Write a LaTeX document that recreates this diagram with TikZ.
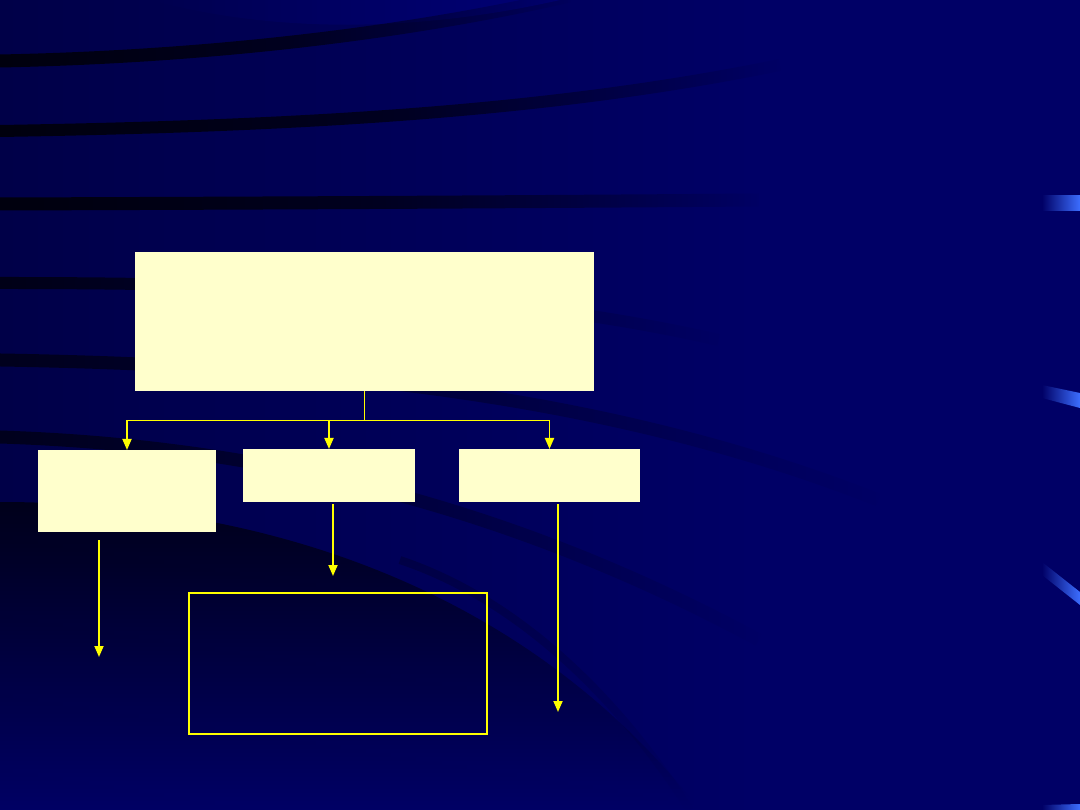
\documentclass[tikz,border=0pt]{standalone}
\usetikzlibrary{arrows.meta,fadings}
\definecolor{navy}{RGB}{0,0,102}
\definecolor{navyleft}{RGB}{0,0,72}
\definecolor{navytop}{RGB}{0,0,122}
\definecolor{band}{RGB}{0,0,14}
\definecolor{deep}{RGB}{0,0,24}
\definecolor{boxfill}{RGB}{255,255,204}
\definecolor{ylw}{RGB}{255,255,0}
\definecolor{hiblue}{RGB}{60,110,255}
\pgfdeclarehorizontalshading{bgshade}{100bp}{color(0bp)=(navyleft); color(25bp)=(navyleft); color(60bp)=(navy); color(100bp)=(navy)}
\tikzfading[name=longfade, left color=transparent!0, right color=transparent!100, middle color=transparent!25]
\tikzset{
  solidbox/.style={fill=boxfill, draw=none, inner sep=0pt, outer sep=0pt},
  framebox/.style={draw=ylw, line width=1.2pt, fill=none, inner sep=0pt, outer sep=0pt},
  conn/.style={draw=ylw, line width=1.8pt},
  arr/.style={conn, -{Triangle[width=9pt,length=11pt]}},
  bandline/.style={draw=band, line cap=butt},
  bar/.style={left color=navy, right color=hiblue, draw=none}
}
\begin{document}
\begin{tikzpicture}[x=1pt,y=-1pt]
\useasboundingbox (0,0) rectangle (1080,810);
% background
\shade[shading=bgshade] (0,0) rectangle (1080,810);
% lighter region top
\fill[navytop, path fading=west, opacity=0.8] (150,0) .. controls (300,40) and (450,25) .. (560,0) -- cycle;
% dark bands
\draw[bandline, line width=13pt, path fading=longfade] (0,61) .. controls (200,57) and (400,35) .. (570,-4);
\draw[bandline, line width=12pt, path fading=longfade] (0,131) .. controls (300,126) and (550,112) .. (780,65);
\draw[bandline, line width=13pt, path fading=longfade] (0,204) .. controls (300,203) and (500,202) .. (760,200);
\draw[bandline, line width=12pt, path fading=east, opacity=0.85] (0,283) .. controls (250,283) and (500,290) .. (720,340);
\draw[bandline, line width=13pt, path fading=east, opacity=0.75] (0,360) .. controls (300,365) and (600,390) .. (880,500);
\draw[bandline, line width=13pt, path fading=east, opacity=0.75] (0,437) .. controls (250,445) and (500,500) .. (760,640);
% deep bottom-left region
\shade[top color=deep, bottom color=navy, opacity=0.95] (0,502) .. controls (250,502) and (520,580) .. (700,810) -- (0,810) -- cycle;
\draw[bandline, line width=8pt, path fading=south, opacity=0.25] (400,560) .. controls (520,600) and (620,700) .. (690,810);
% right-side highlight bars
\shade[bar] (1042,196) -- (1080,196) -- (1080,211) -- (1042,211) -- cycle;
\shade[bar] (1042,385) -- (1080,393) -- (1080,408) -- (1042,398) -- cycle;
\shade[bar] (1042,562) -- (1080,592) -- (1080,605) -- (1042,575) -- cycle;
\shade[bar] (1042,805) -- (1080,804) -- (1080,810) -- (1042,810) -- cycle;
% boxes
\node[solidbox, minimum width=459pt, minimum height=139pt] (main) at (364.5,321.5) {};
\node[solidbox, minimum width=178pt, minimum height=82pt] (left) at (127,491) {};
\node[solidbox, minimum width=172pt, minimum height=53pt] (mid) at (329,475.5) {};
\node[solidbox, minimum width=181pt, minimum height=53pt] (right) at (549.5,475.5) {};
\node[framebox, minimum width=298pt, minimum height=141pt] (frame) at (338,663.5) {};
% connectors
\coordinate (j) at (364.5,420.5);
\coordinate (ja) at (127,420.5);
\coordinate (jb) at (329,420.5);
\coordinate (jc) at (549.5,420.5);
\draw[conn] (main.south) -- (j);
\draw[conn] (ja) -- (jc);
\draw[arr] (ja) -- (left.north);
\draw[arr] (jb) -- (mid.north);
\draw[arr] (jc) -- (right.north);
\coordinate (s1) at (99,540);
\coordinate (e1) at (99,657);
\coordinate (s2) at (333,504);
\coordinate (e2) at (333,576);
\coordinate (s3) at (558,504);
\coordinate (e3) at (558,712);
\draw[arr] (s1) -- (e1);
\draw[arr] (s2) -- (e2);
\draw[arr] (s3) -- (e3);
\end{tikzpicture}
\end{document}
